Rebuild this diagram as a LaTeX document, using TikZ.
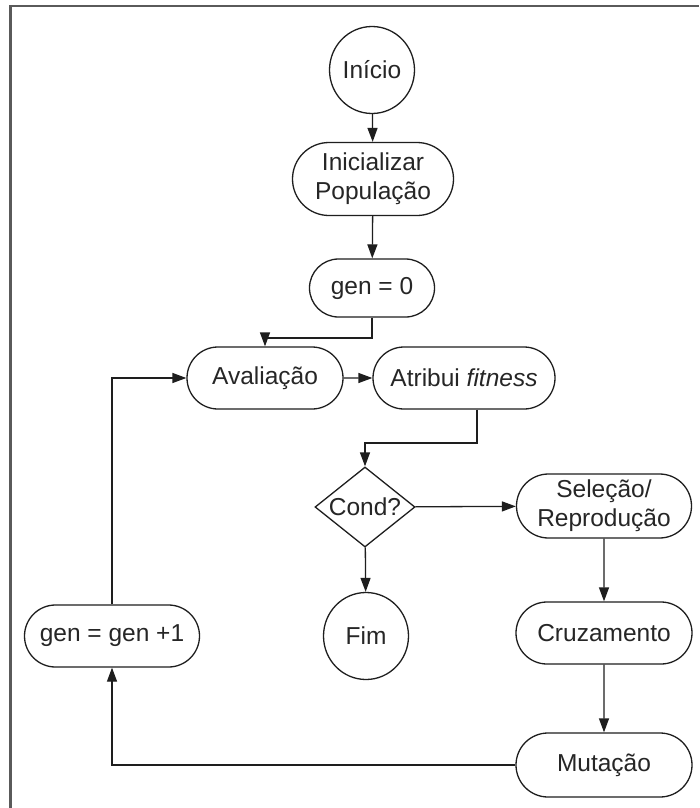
\documentclass[tikz,border=0pt]{standalone}
\usepackage{fontspec}
\setmainfont{Liberation Sans}
\usetikzlibrary{arrows.meta,shapes.misc,shapes.geometric}
\definecolor{ln}{HTML}{1E1E1E}
\definecolor{fr}{HTML}{5A5A5A}
\begin{document}
\begin{tikzpicture}[x=1pt,y=-1pt,
  every node/.style={font=\fontsize{24.5}{29}\selectfont, text=black!85, align=center},
  shp/.style={draw=ln, line width=1.3pt, fill=white, inner sep=0pt},
  term/.style={shp, rounded rectangle, minimum width=#1, minimum height=62pt},
  circ/.style={shp, ellipse, minimum width=85pt, minimum height=87pt},
  arr/.style={draw=ln, line width=1.3pt, -{Triangle[length=14pt,width=10pt]}},
  con/.style={draw=ln, line width=1.3pt}]
\useasboundingbox (0,0) rectangle (699,808);
\fill[white] (0,0) rectangle (699,808);
\draw[fr, line width=2.5pt] (10.5,808) -- (10.5,6) -- (699,6);

\node[circ] (inicio) at (372,70) {Início};
\node[term=161pt, minimum height=73pt] (init) at (373,179) {Inicializar\\População};
\node[term=125pt, minimum height=58pt] (gen0) at (372,288) {gen = 0};
\node[term=156pt] (aval) at (265,378) {Avaliação};
\node[term=182pt] (atrib) at (464,378) {Atribui \textit{fitness}};
\node[shp, diamond, aspect=1.25, minimum width=100pt, minimum height=80pt] (cond) at (365,507) {Cond?};
\node[term=175pt, minimum height=64pt] (sel) at (604,506) {Seleção/\\Reprodução};
\node[circ] (fim) at (366,636) {Fim};
\node[term=175pt] (genp) at (112,636) {gen = gen +1};
\node[term=176pt] (cruz) at (604,633) {Cruzamento};
\node[term=176pt, minimum height=64pt] (mut) at (604,765) {Mutação};

\coordinate (j1) at (372,338);
\coordinate (j2) at (477,443);

\draw[arr] (inicio) -- (init);
\draw[arr] (init) -- (gen0);
\draw[arr] (gen0.south) -- (j1) -| (aval.north);
\draw[arr] (aval) -- (atrib);
\draw[arr] (atrib.south -| j2) -- (j2) -| (cond.north);
\draw[arr] (cond) -- (sel);
\draw[arr] (cond) -- (fim);
\draw[arr] (sel) -- (cruz);
\draw[arr] (cruz) -- (mut);
\draw[arr] (mut.west) -| (genp.south);
\draw[arr] (genp.north) |- (aval.west);
\end{tikzpicture}
\end{document}
